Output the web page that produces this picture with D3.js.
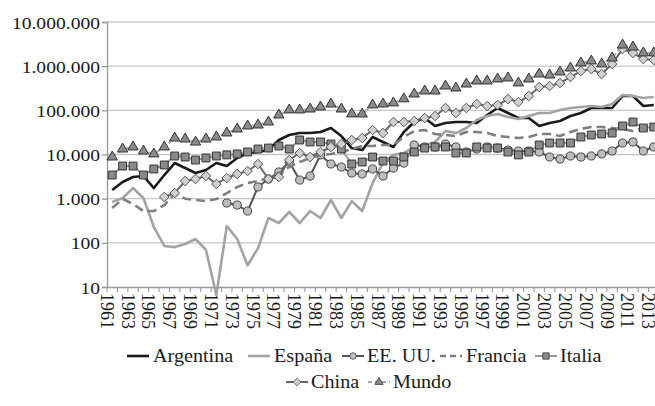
<!DOCTYPE html>
<html>
<head>
<meta charset="utf-8">
<script src="https://cdnjs.cloudflare.com/ajax/libs/d3/7.8.5/d3.min.js"></script>
<style>
  html, body { margin: 0; padding: 0; background: #fff; }
  #main { width: 655px; height: 406px; }
</style>
</head>
<body>
<div id="main"></div>
<script>
'use strict';

var FONT = "'Liberation Serif', 'DejaVu Serif', serif";

// years 1961 - 2013 (categories)
var years = d3.range(1961, 2014);
var yTicks = [10, 100, 1000, 10000, 100000, 1000000, 10000000];

var argentina = [1570, 2380, 3090, 3260, 1740, 3430, 6410, 4940, 3810, 4460,
  6410, 5480, 8330, 10800, 11400, 12600, 21300, 27600, 30600, 30600,
  32300, 39800, 26200, 14000, 12600, 24900, 19200, 14800, 32300, 54400,
  67000, 44200, 51600, 54400, 54400, 51600, 78400, 113000, 87000, 67000,
  67000, 44200, 51600, 57300, 74400, 87000, 113000, 113000, 113000, 211000,
  211000, 125000, 132000];

var espana = [840, 1030, 1740, 1030, 228, 85, 80, 94, 122, 69,
  6.6, 240, 122, 31, 76, 365, 281, 499, 281, 525,
  365, 933, 365, 880, 525, 2260, 6410, 9800, 10800, 14800,
  16400, 19200, 34000, 30600, 39800, 60400, 74400, 82600, 70600, 63600,
  74400, 87000, 87000, 102000, 113000, 119000, 125000, 119000, 139000, 222000,
  211000, 190000, 200000];

var eeuu = [null, null, null, null, null, null, null, null, null, null,
  null, 798, 718, 525, 1840, 2790, 4020, 6760, 2640, 3260,
  9800, 6090, 5210, 3810, 3620, 4700, 3260, 4940, 6410, 16400,
  14800, 14800, 17300, 14800, 11400, 13300, 14800, 14000, 12600, 12000,
  12000, 11400, 8770, 7900, 9250, 8770, 9250, 10300, 12000, 18200,
  19200, 12000, 14800];

var francia = [615, 980, 757, 525, 525, 718, 1280, 1000, 933, 885,
  980, 1340, 1840, 2260, 2510, 2940, 3810, 5210, 6760, 8330,
  9800, 10300, 11400, 13300, 15600, 15600, 16400, 16400, 24900, 34000,
  35800, 29100, 27600, 26200, 32300, 32300, 30600, 26200, 24900, 23600,
  24900, 29100, 29100, 26200, 32300, 37800, 41900, 41900, 39800, 37800,
  34000, 39800, 39800];

var italia = [3430, 5480, 5480, 3430, 4700, 5780, 9250, 8770, 7500, 8330,
  9250, 9800, 10300, 11400, 13300, 14000, 15600, 13300, 21300, 19200,
  19200, 17300, 13300, 6090, 6760, 8770, 7130, 7130, 8770, 11400,
  14000, 14800, 14800, 10800, 10800, 14800, 14000, 14000, 11400, 9800,
  11400, 16400, 18200, 18200, 18200, 24900, 27600, 29100, 30600, 44200,
  54400, 39800, 41900];

var china = [null, null, null, null, null, 1090, 1340, 2510, 2790, 3260,
  2150, 2940, 3620, 4230, 6090, 2790, 3090, 7500, 10800, 8770,
  11400, 14800, 17300, 21300, 23600, 35800, 30600, 54400, 54400, 57300,
  67000, 74400, 113000, 87000, 113000, 139000, 125000, 132000, 180000, 154000,
  211000, 337000, 355000, 416000, 568000, 776000, 861000, 664000, 1120000, 2440000,
  1990000, 1450000, 1380000];

var mundo = [8770, 13300, 14800, 12000, 10300, 14800, 23600, 22400, 19100, 22400,
  24900, 30700, 37800, 44200, 46500, 54400, 78400, 102000, 102000, 107000,
  119000, 139000, 107000, 83000, 82600, 132000, 139000, 147000, 182000, 234000,
  274000, 274000, 355000, 320000, 394000, 461000, 461000, 512000, 540000, 416000,
  512000, 664000, 630000, 737000, 907000, 1180000, 1310000, 1120000, 1530000, 3010000,
  2710000, 1990000, 1990000];

var series = [
  {name: 'Argentina', values: argentina, stroke: '#1a1a1a', width: 2.6, dash: null, marker: null},
  {name: 'España', values: espana, stroke: '#a3a3a3', width: 2.6, dash: null, marker: null},
  {name: 'EE. UU.', values: eeuu, stroke: '#555', width: 2, dash: null, marker: 'circle', mfill: '#bdbdbd', mstroke: '#444'},
  {name: 'Francia', values: francia, stroke: '#7f7f7f', width: 2.6, dash: '9,5', marker: null},
  {name: 'Italia', values: italia, stroke: '#9a9a9a', width: 2, dash: null, marker: 'square', mfill: '#8a8a8a', mstroke: '#333'},
  {name: 'China', values: china, stroke: '#666', width: 2, dash: null, marker: 'diamond', mfill: '#cfcfcf', mstroke: '#555'},
  {name: 'Mundo', values: mundo, stroke: '#a8a8a8', width: 2, dash: '5,3', marker: 'triangle', mfill: '#8a8a8a', mstroke: '#333'}
];

var width = 655, height = 406;
var M = {left: 107, top: 22, bottom: 287, right: 659};

var svg = d3.select('#main').append('svg')
  .attr('width', width).attr('height', height)
  .style('font-family', FONT);

var x = d3.scaleBand().domain(years).range([M.left, M.right]).paddingInner(0).paddingOuter(0);
var y = d3.scaleLog().domain([10, 10000000]).range([M.bottom, M.top]);
var cx = function(yr) { return x(yr) + x.bandwidth() / 2; };

var fmt = function(v) { return d3.format(',')(v).replace(/,/g, '.'); };

// gridlines
svg.append('g').selectAll('line').data(yTicks.slice(1)).enter().append('line')
  .attr('x1', M.left).attr('x2', width)
  .attr('y1', function(d) { return y(d); }).attr('y2', function(d) { return y(d); })
  .attr('stroke', '#c6c6c6').attr('stroke-width', 1.3);

// y axis
var yAxis = d3.axisLeft(y).tickValues(yTicks).tickSize(5).tickFormat(fmt);
var gy = svg.append('g').attr('transform', 'translate(' + M.left + ',0)').call(yAxis);
gy.attr('font-family', null).attr('font-size', null);
gy.select('.domain').attr('stroke', '#999').attr('stroke-width', 1.3);
gy.selectAll('.tick line').attr('stroke', '#999').attr('stroke-width', 1.3);
gy.selectAll('.tick text')
  .attr('x', null).attr('dy', null)
  .style('font-family', FONT).attr('fill', '#1a1a1a')
  .attr('font-size', 17.5).attr('text-anchor', 'end').attr('dominant-baseline', 'central')
  .attr('transform', 'translate(-7,0) scale(1.12,1)');

// x axis: ticks between categories, labels every second year
var xAxis = d3.axisBottom(x).tickSize(0).tickFormat('');
var gx = svg.append('g').attr('transform', 'translate(0,' + M.bottom + ')').call(xAxis);
gx.attr('font-family', null).attr('font-size', null);
gx.select('.domain').attr('stroke', '#999').attr('stroke-width', 1.3);
gx.selectAll('.tick').remove();
gx.selectAll('.cat').data(years).enter().append('line')
  .attr('x1', function(d) { return x(d); }).attr('x2', function(d) { return x(d); })
  .attr('y1', 0).attr('y2', 5)
  .attr('stroke', '#999').attr('stroke-width', 1.1);

gx.selectAll('.lbl').data(years.filter(function(d) { return (d - 1961) % 2 === 0; }))
  .enter().append('text')
  .attr('transform', function(d) { return 'translate(' + (cx(d) - 5.5) + ',6) rotate(90)'; })
  .attr('text-anchor', 'start').attr('dominant-baseline', 'central')
  .style('font-family', FONT).attr('fill', '#1a1a1a')
  .attr('font-size', 18)
  .text(function(d) { return d; });

// markers
function markerPath(type) {
  if (type === 'circle') return d3.symbol().type(d3.symbolCircle).size(52)();
  if (type === 'square') return d3.symbol().type(d3.symbolSquare).size(62)();
  if (type === 'triangle') return d3.symbol().type(d3.symbolTriangle).size(46)();
  if (type === 'diamond') return 'M0,-4.8L4.8,0L0,4.8L-4.8,0Z';
  return null;
}

var line = d3.line()
  .defined(function(d) { return d.v != null; })
  .x(function(d) { return cx(d.yr); })
  .y(function(d) { return y(d.v); });

var plot = svg.append('g');

series.forEach(function(s) {
  var pts = years.map(function(yr, i) { return {yr: yr, v: s.values[i]}; });
  var g = plot.append('g');
  g.append('path').datum(pts)
    .attr('d', line)
    .attr('fill', 'none')
    .attr('stroke', s.stroke)
    .attr('stroke-width', s.width)
    .attr('stroke-dasharray', s.dash)
    .attr('stroke-linejoin', 'round');
  if (s.marker) {
    g.selectAll('path.m').data(pts.filter(function(d) { return d.v != null; }))
      .enter().append('path')
      .attr('class', 'm')
      .attr('d', markerPath(s.marker))
      .attr('transform', function(d) { return 'translate(' + cx(d.yr) + ',' + y(d.v) + ')'; })
      .attr('fill', s.mfill).attr('stroke', s.mstroke).attr('stroke-width', 1);
  }
});

// legend
var legendPos = [
  {x: 127, y: 356}, {x: 248, y: 356}, {x: 342, y: 356}, {x: 440, y: 356}, {x: 535, y: 356},
  {x: 286, y: 382}, {x: 368, y: 382}
];

var legend = svg.append('g');
series.forEach(function(s, i) {
  var p = legendPos[i];
  var g = legend.append('g').attr('transform', 'translate(' + p.x + ',' + p.y + ')');
  g.append('line').attr('x1', 0).attr('x2', 22).attr('y1', 0).attr('y2', 0)
    .attr('stroke', s.stroke).attr('stroke-width', s.width)
    .attr('stroke-dasharray', s.dash ? (s.marker ? '4,3' : '6,4') : null);
  if (s.marker) {
    g.append('path').attr('d', markerPath(s.marker))
      .attr('transform', 'translate(11,0) scale(0.8)')
      .attr('fill', s.mfill).attr('stroke', s.mstroke).attr('stroke-width', 1);
  }
  g.append('text')
    .attr('transform', 'translate(' + (s.marker ? 25 : 26) + ',0) scale(1.12,1)')
    .attr('dominant-baseline', 'central')
    .style('font-family', FONT).attr('fill', '#1a1a1a')
    .attr('font-size', 18)
    .text(s.name);
});
</script>
</body>
</html>
